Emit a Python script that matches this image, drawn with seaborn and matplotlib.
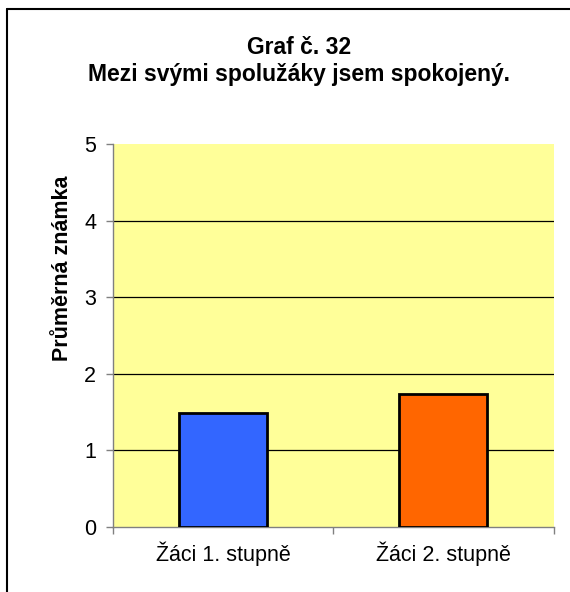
import matplotlib
matplotlib.use("Agg")
import matplotlib.pyplot as plt
import seaborn as sns
import pandas as pd
from matplotlib.lines import Line2D

# Survey results: average grade per group
categories = ["Žáci 1. stupně", "Žáci 2. stupně"]
values = [1.49, 1.73]
bar_colors = ["#3366FF", "#FF6600"]
y_ticks = [0, 1, 2, 3, 4, 5]

title_lines = ["Graf č. 32", "Mezi svými spolužáky jsem spokojený."]
y_label = "Průměrná známka"

sns.set_theme(style="white")
plt.rcParams["font.family"] = ["Liberation Sans", "DejaVu Sans"]
plt.rcParams["text.color"] = "black"
plt.rcParams["xtick.color"] = "black"
plt.rcParams["ytick.color"] = "black"

df = pd.DataFrame({"skupina": categories, "znamka": values})

fig = plt.figure(figsize=(5.70, 5.92), dpi=100)
fig.patch.set_facecolor("white")
ax = fig.add_axes([0.1977, 0.1106, 0.7734, 0.6461])
ax.set_facecolor("#FFFF99")

sns.barplot(data=df, x="skupina", y="znamka", hue="skupina",
            palette=bar_colors, saturation=1, width=0.4, edgecolor="black",
            linewidth=2.0, legend=False, ax=ax, zorder=3)

ax.set_ylim(0, 5)
ax.set_xlim(-0.5, 1.5)
ax.set_yticks(y_ticks)
ax.set_yticklabels([str(t) for t in y_ticks], fontsize=15.5)

# horizontal gridlines at the inner ticks
for t in y_ticks[1:-1]:
    ax.axhline(t, color="black", linewidth=0.9, zorder=1)

ax.set_xticks([0, 1])
ax.set_xticklabels(categories, fontsize=15.5)
ax.set_xticks([-0.5, 0.5, 1.5], minor=True)
ax.tick_params(axis="x", which="major", length=0, pad=11)
ax.tick_params(axis="x", which="minor", length=5, width=1, color="#808080",
               direction="out", bottom=True)
ax.tick_params(axis="y", length=5, width=1, color="#808080",
               direction="out", left=True, pad=7, labelcolor="black")

for side in ["top", "right"]:
    ax.spines[side].set_visible(False)
for side in ["left", "bottom"]:
    ax.spines[side].set_color("#808080")
    ax.spines[side].set_linewidth(1.0)

ax.set_xlabel("")
ax.set_ylabel("")

fig.text(0.525, 0.920, title_lines[0], ha="center", va="center",
         fontsize=16.5, fontweight="bold", color="black")
fig.text(0.525, 0.875, title_lines[1], ha="center", va="center",
         fontsize=16.5, fontweight="bold", color="black")
fig.text(0.109, 0.547, y_label, ha="center", va="center", rotation=90,
         fontsize=15.5, fontweight="bold", color="black")

# chart frame (top and left edges)
fig.add_artist(Line2D([7 / 570, 1.0], [1 - 9 / 592, 1 - 9 / 592],
                      transform=fig.transFigure, color="black", linewidth=1.5))
fig.add_artist(Line2D([7 / 570, 7 / 570], [0.0, 1 - 9 / 592],
                      transform=fig.transFigure, color="black", linewidth=1.5))

fig.savefig("out.png", dpi=100, facecolor="white")
